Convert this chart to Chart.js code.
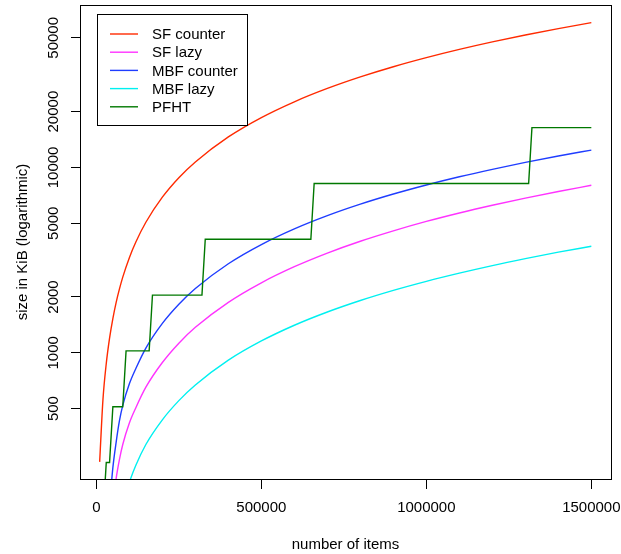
<!DOCTYPE html>
<html>
<head>
<meta charset="utf-8">
<script src="https://cdn.jsdelivr.net/npm/chart.js@4.4.1/dist/chart.umd.min.js"></script>
<style>
  html, body { margin: 0; padding: 0; background: #fff; }
  #wrap { width: 621px; height: 554px; }
</style>
</head>
<body>
<div id="wrap"><canvas id="myChart" width="621" height="554"></canvas></div>
<script>
// number of items (x) and sizes in KiB
const itemCounts = [10000, 20000, 30000, 40000, 50000, 60000, 70000, 80000, 100000, 120000,
  150000, 200000, 250000, 300000, 400000, 500000, 600000, 700000, 800000, 900000,
  1000000, 1100000, 1200000, 1300000, 1400000, 1500000];
const sfCounter = [258, 560, 875, 1200, 1530, 1870, 2210, 2560, 3260, 3970,
  5060, 6910, 8800, 10700, 14600, 18570, 22600, 26670, 30780, 34930,
  39100, 43310, 47550, 51800, 56080, 60400];
const sfLazy = [null, null, null, null, 150, 210, 266, 320, 418, 507,
  652, 886, 1127, 1372, 1871, 2385, 2913, 3450, 3997, 4548,
  5113, 5680, 6251, 6831, 7418, 8010];
const mbfCounter = [null, null, null, 150, 240, 330, 430, 520, 680, 825,
  1060, 1441, 1829, 2223, 3022, 3835, 4660, 5493, 6335, 7185,
  8040, 8903, 9767, 10640, 11518, 12400];
const mbfLazy = [null, null, null, null, null, null, null, 150, 200, 248,
  320, 435, 552, 670, 912, 1158, 1408, 1660, 1915, 2172,
  2430, 2690, 2955, 3220, 3490, 3755];
// PFHT doubles its table in steps
const pfhtItems = [10000, 20000, 30000, 40000, 50000, 80000, 90000, 160000, 170000,
  320000, 330000, 650000, 660000, 1310000, 1320000, 1500000];
const pfhtSize = [128, 128, 256, 256, 512, 512, 1024, 1024, 2048,
  2048, 4096, 4096, 8192, 8192, 16384, 16384];

const xTicks = [0, 500000, 1000000, 1500000];
const yTicks = [500, 1000, 2000, 5000, 10000, 20000, 50000];

const FONT = "'Liberation Sans', Arial, Helvetica, sans-serif";

function toPoints(xs, ys) {
  return xs.map((x, i) => ({ x: x, y: ys[i] }));
}

function curve(label, xs, ys, color, order) {
  return {
    label: label,
    data: toPoints(xs, ys),
    borderColor: color,
    backgroundColor: color,
    borderWidth: 1.4,
    pointRadius: 0,
    cubicInterpolationMode: 'monotone',
    spanGaps: false,
    clip: 0,
    order: order
  };
}

const datasets = [
  curve('SF counter', itemCounts, sfCounter, '#ff2a00', 4),
  curve('SF lazy', itemCounts, sfLazy, '#ff33ff', 3),
  curve('MBF counter', itemCounts, mbfCounter, '#1f3dff', 2),
  curve('MBF lazy', itemCounts, mbfLazy, '#00f0f0', 1),
  {
    label: 'PFHT',
    data: toPoints(pfhtItems, pfhtSize),
    borderColor: '#007800',
    backgroundColor: '#007800',
    borderWidth: 1.4,
    pointRadius: 0,
    tension: 0,
    clip: 0,
    order: 0
  }
];

// frame around the plot region, like R's box()
const boxPlugin = {
  id: 'box',
  afterDatasetsDraw(chart) {
    const { ctx, chartArea: a } = chart;
    ctx.save();
    ctx.strokeStyle = '#000';
    ctx.lineWidth = 1;
    ctx.strokeRect(a.left + 0.5, a.top + 0.5, a.right - a.left, a.bottom - a.top);
    ctx.restore();
  }
};

// legend in the top left corner with a frame
const legendPlugin = {
  id: 'boxLegend',
  afterDraw(chart) {
    const ctx = chart.ctx;
    const left = 97, top = 14, w = 150, h = 111;
    ctx.save();
    ctx.fillStyle = '#fff';
    ctx.fillRect(left, top, w, h);
    ctx.strokeStyle = '#000';
    ctx.lineWidth = 1;
    ctx.strokeRect(left + 0.5, top + 0.5, w, h);
    ctx.font = '15px ' + FONT;
    ctx.textBaseline = 'middle';
    ctx.textAlign = 'left';
    chart.data.datasets.forEach((ds, i) => {
      const y = 34 + i * 18.2;
      ctx.strokeStyle = ds.borderColor;
      ctx.lineWidth = 1.4;
      ctx.beginPath();
      ctx.moveTo(110, y);
      ctx.lineTo(138, y);
      ctx.stroke();
      ctx.fillStyle = '#000';
      ctx.fillText(ds.label, 152, y + 1);
    });
    ctx.restore();
  }
};

const ctx = document.getElementById('myChart').getContext('2d');
const chartInstance = new Chart(ctx, {
  type: 'line',
  data: { datasets: datasets },
  options: {
    responsive: false,
    animation: false,
    devicePixelRatio: 1,
    layout: { padding: { left: 0, top: 3, right: 10, bottom: 0 } },
    plugins: {
      legend: { display: false },
      tooltip: { enabled: false }
    },
    scales: {
      x: {
        type: 'linear',
        min: -49600,
        max: 1559600,
        afterBuildTicks: scale => { scale.ticks = xTicks.map(v => ({ value: v })); },
        afterFit: scale => { scale.height = 75; scale.paddingLeft = 0; scale.paddingRight = 0; },
        grid: { display: true, drawOnChartArea: false, drawTicks: true, tickLength: 10, color: '#000', lineWidth: 1 },
        border: { display: true, color: '#000' },
        ticks: {
          color: '#000',
          font: { family: FONT, size: 15 },
          padding: 10,
          maxRotation: 0,
          autoSkip: false,
          callback: v => String(v)
        },
        title: {
          display: true,
          text: 'number of items',
          color: '#000',
          font: { family: FONT, size: 15 },
          padding: { top: 0, bottom: 0 }
        }
      },
      y: {
        type: 'logarithmic',
        min: 208.5,
        max: 75200,
        afterBuildTicks: scale => { scale.ticks = yTicks.map(v => ({ value: v })); },
        afterFit: scale => { scale.width = 80; },
        grid: { display: true, drawOnChartArea: false, drawTicks: true, tickLength: 9, color: '#000', lineWidth: 1 },
        border: { display: true, color: '#000' },
        ticks: {
          color: '#000',
          font: { family: FONT, size: 15 },
          minRotation: 90,
          maxRotation: 90,
          crossAlign: 'center',
          padding: -4,
          autoSkip: false,
          callback: v => String(v)
        },
        title: {
          display: true,
          text: 'size in KiB (logarithmic)',
          color: '#000',
          font: { family: FONT, size: 15 },
          padding: { top: 14, bottom: 0 }
        }
      }
    }
  },
  plugins: [boxPlugin, legendPlugin]
});
</script>
</body>
</html>
